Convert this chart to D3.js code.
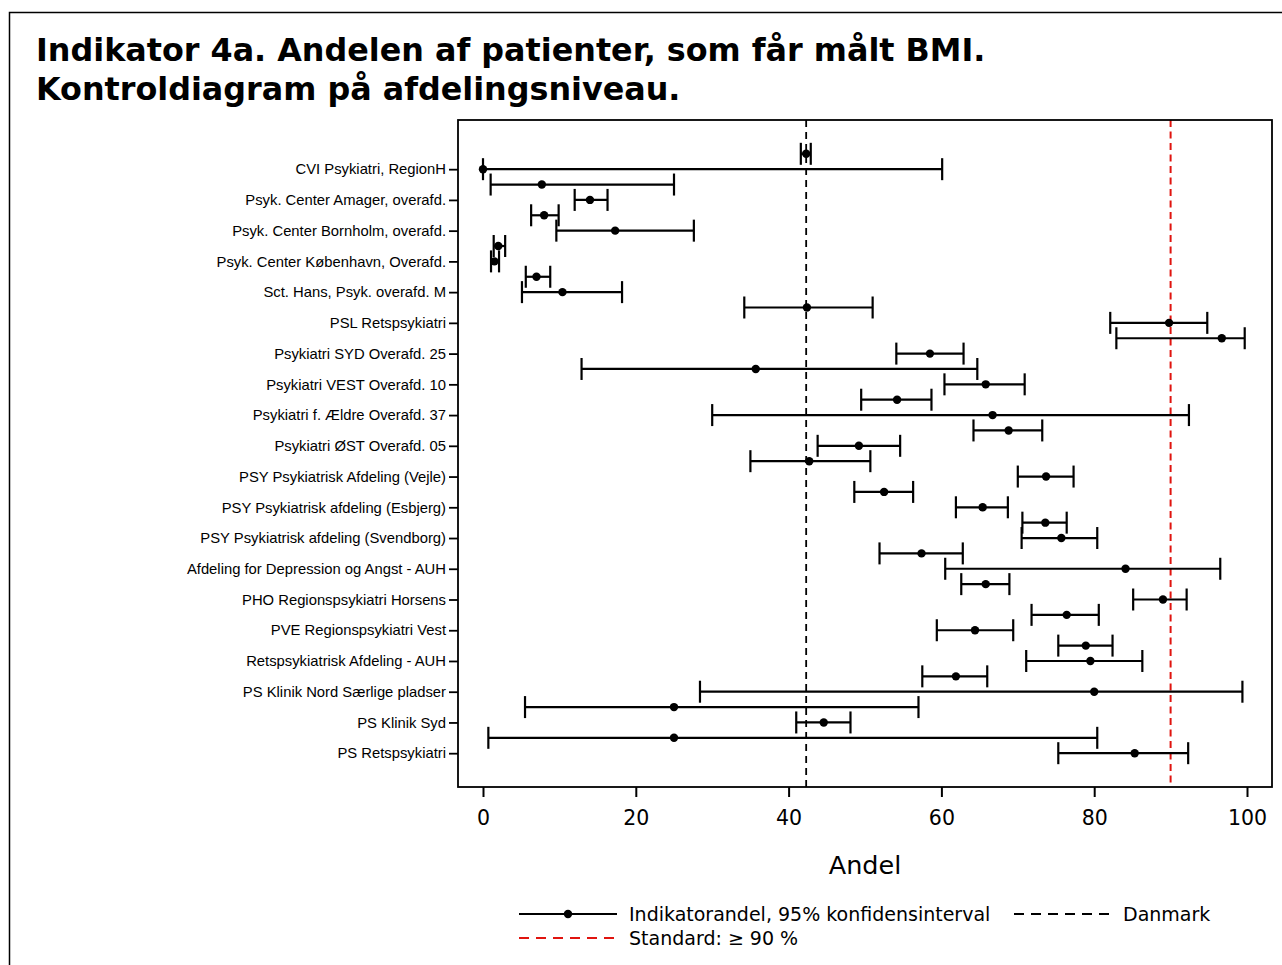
<!DOCTYPE html>
<html>
<head>
<meta charset="utf-8">
<script src="https://cdn.jsdelivr.net/npm/d3@7"></script>
<style>
  html, body { margin: 0; padding: 0; background: #fff; }
  svg { display: block; }
</style>
</head>
<body>
<svg id="chart" width="1282" height="965"></svg>
<script>
// ---------- DATA ----------
const categories = [
  "(uden navn 1)",
  "CVI Psykiatri, RegionH",
  "(uden navn 2)",
  "Psyk. Center Amager, overafd.",
  "(uden navn 3)",
  "Psyk. Center Bornholm, overafd.",
  "(uden navn 4)",
  "Psyk. Center København, Overafd.",
  "(uden navn 5)",
  "Sct. Hans, Psyk. overafd. M",
  "(uden navn 6)",
  "PSL Retspsykiatri",
  "(uden navn 7)",
  "Psykiatri SYD Overafd. 25",
  "(uden navn 8)",
  "Psykiatri VEST Overafd. 10",
  "(uden navn 9)",
  "Psykiatri f. Ældre Overafd. 37",
  "(uden navn 10)",
  "Psykiatri ØST Overafd. 05",
  "(uden navn 11)",
  "PSY Psykiatrisk Afdeling (Vejle)",
  "(uden navn 12)",
  "PSY Psykiatrisk afdeling (Esbjerg)",
  "(uden navn 13)",
  "PSY Psykiatrisk afdeling (Svendborg)",
  "(uden navn 14)",
  "Afdeling for Depression og Angst - AUH",
  "(uden navn 15)",
  "PHO Regionspsykiatri Horsens",
  "(uden navn 16)",
  "PVE Regionspsykiatri Vest",
  "(uden navn 17)",
  "Retspsykiatrisk Afdeling - AUH",
  "(uden navn 18)",
  "PS Klinik Nord Særlige pladser",
  "(uden navn 19)",
  "PS Klinik Syd",
  "(uden navn 20)",
  "PS Retspsykiatri"
];
// only every second category name is printed on the axis
const shownLabels = categories.filter((d, i) => i % 2 === 1);

const estimate = [42.3, 0.0, 7.7, 14.0, 8.0, 17.3, 2.0, 1.5, 7.0, 10.4,
                  42.4, 89.8, 96.7, 58.5, 35.7, 65.8, 54.2, 66.7, 68.8, 49.2,
                  42.7, 73.7, 52.5, 65.4, 73.6, 75.7, 57.4, 84.1, 65.8, 89.0,
                  76.4, 64.4, 78.9, 79.5, 61.9, 80.0, 25.0, 44.6, 25.0, 85.3];
const lower    = [41.6, 0.0, 1.0, 12.0, 6.3, 9.6, 1.4, 1.05, 5.6, 5.1,
                  34.2, 82.1, 82.9, 54.1, 12.9, 60.4, 49.5, 30.0, 64.2, 43.8,
                  35.0, 70.0, 48.6, 61.9, 70.6, 70.5, 51.9, 60.5, 62.6, 85.1,
                  71.8, 59.4, 75.3, 71.1, 57.5, 28.4, 5.5, 41.0, 0.7, 75.3];
const upper    = [42.9, 60.1, 25.0, 16.3, 9.9, 27.6, 2.9, 2.1, 8.8, 18.2,
                  51.0, 94.8, 99.7, 62.9, 64.7, 70.9, 58.7, 92.4, 73.2, 54.6,
                  50.7, 77.3, 56.3, 68.7, 76.4, 80.4, 62.8, 96.5, 68.9, 92.1,
                  80.6, 69.4, 82.4, 86.3, 66.0, 99.4, 57.0, 48.1, 80.4, 92.3];

const xTicks = [0, 20, 40, 60, 80, 100];
const danmarkValue = 42.3;
const standardValue = 90;

const titleLines = ["Indikator 4a. Andelen af patienter, som får målt BMI.",
                    "Kontroldiagram på afdelingsniveau."];
const xAxisTitle = "Andel";
const legendItems = ["Indikatorandel, 95% konfidensinterval", "Danmark", "Standard: \u2265 90 %"];

// ---------- LAYOUT ----------
const svg = d3.select("#chart");
const plot = { left: 458, right: 1272, top: 120, bottom: 787 };

const x = d3.scaleLinear()
  .domain([0, 100])
  .range([483, 1247]);

const y = d3.scalePoint()
  .domain(categories)
  .range([plot.top, plot.bottom])
  .padding(2.2);

const rows = categories.map((c, i) => ({ cat: c, est: estimate[i], lo: lower[i], hi: upper[i] }));

// outer figure border
svg.append("path")
  .attr("d", "M9.5,965 L9.5,12.5 L1282,12.5")
  .attr("fill", "none")
  .attr("stroke", "#000")
  .attr("stroke-width", 1.5);

// title
svg.append("g").selectAll("text")
  .data(titleLines).join("text")
  .attr("x", 36)
  .attr("y", (d, i) => 61 + i * 39)
  .attr("font-family", "DejaVu Sans")
  .attr("font-weight", "bold")
  .attr("font-size", 31.8)
  .attr("fill", "#000")
  .text(d => d);

// reference lines
svg.append("line")
  .attr("x1", x(danmarkValue)).attr("x2", x(danmarkValue))
  .attr("y1", plot.top).attr("y2", plot.bottom)
  .attr("stroke", "#000").attr("stroke-width", 1.8)
  .attr("stroke-dasharray", "7,5");

svg.append("line")
  .attr("x1", x(standardValue)).attr("x2", x(standardValue))
  .attr("y1", plot.top).attr("y2", plot.bottom)
  .attr("stroke", "#e0140f").attr("stroke-width", 2)
  .attr("stroke-dasharray", "7,4.5");

// error bars
const capH = 11;
const g = svg.append("g").attr("stroke", "#000").attr("stroke-width", 2.2);
g.selectAll("line.bar").data(rows).join("line").attr("class", "bar")
  .attr("x1", d => x(d.lo)).attr("x2", d => x(d.hi))
  .attr("y1", d => y(d.cat)).attr("y2", d => y(d.cat));
g.selectAll("line.capl").data(rows).join("line").attr("class", "capl")
  .attr("x1", d => x(d.lo)).attr("x2", d => x(d.lo))
  .attr("y1", d => y(d.cat) - capH).attr("y2", d => y(d.cat) + capH);
g.selectAll("line.caph").data(rows).join("line").attr("class", "caph")
  .attr("x1", d => x(d.hi)).attr("x2", d => x(d.hi))
  .attr("y1", d => y(d.cat) - capH).attr("y2", d => y(d.cat) + capH);
svg.append("g").selectAll("circle").data(rows).join("circle")
  .attr("cx", d => x(d.est)).attr("cy", d => y(d.cat))
  .attr("r", 4.2).attr("fill", "#000");

// plot frame
svg.append("rect")
  .attr("x", plot.left).attr("y", plot.top)
  .attr("width", plot.right - plot.left).attr("height", plot.bottom - plot.top)
  .attr("fill", "none").attr("stroke", "#000").attr("stroke-width", 1.8);

// y axis
const yAxis = d3.axisLeft(y).tickValues(shownLabels).tickSize(9).tickPadding(3);
const yg = svg.append("g").attr("transform", `translate(${plot.left},0)`).call(yAxis);
yg.select(".domain").remove();
yg.selectAll(".tick line").attr("stroke", "#000").attr("stroke-width", 1.8);
yg.selectAll(".tick text")
  .attr("font-family", "Liberation Sans, Arial, sans-serif")
  .attr("font-size", 14.8)
  .attr("fill", "#000");

// x axis
const xAxis = d3.axisBottom(x).tickValues(xTicks).tickSize(10).tickPadding(13).tickFormat(d3.format("d"));
const xg = svg.append("g").attr("transform", `translate(0,${plot.bottom})`).call(xAxis);
xg.select(".domain").remove();
xg.selectAll(".tick line").attr("stroke", "#000").attr("stroke-width", 2);
xg.selectAll(".tick text")
  .attr("font-family", "DejaVu Sans")
  .attr("font-size", 20.5)
  .attr("fill", "#000");

svg.append("text")
  .attr("x", (plot.left + plot.right) / 2)
  .attr("y", 874)
  .attr("text-anchor", "middle")
  .attr("font-family", "DejaVu Sans")
  .attr("font-size", 25.5)
  .attr("fill", "#000")
  .text(xAxisTitle);

// legend
const lg = svg.append("g").attr("font-family", "DejaVu Sans").attr("font-size", 19).attr("fill", "#000");
// item 1
lg.append("line").attr("x1", 519).attr("x2", 617).attr("y1", 914).attr("y2", 914)
  .attr("stroke", "#000").attr("stroke-width", 2.2);
lg.append("circle").attr("cx", 568).attr("cy", 914).attr("r", 4.2).attr("fill", "#000");
lg.append("text").attr("x", 629).attr("y", 921).text(legendItems[0]);
// item 2
lg.append("line").attr("x1", 1014).attr("x2", 1110).attr("y1", 914).attr("y2", 914)
  .attr("stroke", "#000").attr("stroke-width", 2).attr("stroke-dasharray", "10,7");
lg.append("text").attr("x", 1123).attr("y", 921).text(legendItems[1]);
// item 3
lg.append("line").attr("x1", 519).attr("x2", 617).attr("y1", 938).attr("y2", 938)
  .attr("stroke", "#e0140f").attr("stroke-width", 2).attr("stroke-dasharray", "10,7");
lg.append("text").attr("x", 629).attr("y", 945).text(legendItems[2]);
</script>
</body>
</html>
